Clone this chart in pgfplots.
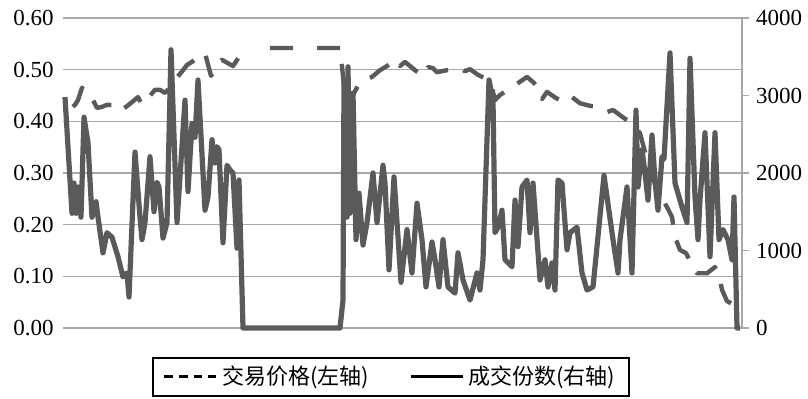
\documentclass[border=0pt]{standalone}
\usepackage{pgfplots}
\pgfplotsset{compat=1.18}
\usepackage{fontspec}
\setmainfont{Liberation Serif}
\newfontfamily\cjk{Noto Sans CJK SC}
\definecolor{lineg}{HTML}{5A5A5A}
\definecolor{gridg}{HTML}{A8A8A8}
\pgfplotsset{base/.style={width=339.5pt, height=155pt, scale only axis,
  xmin=63, xmax=742, clip=false,
  tick label style={font=\fontsize{11.5}{13}\selectfont},
  /pgf/number format/assume math mode=true}}
\begin{document}
\begin{tikzpicture}
% left axis with grid
\begin{axis}[base, name=ax, ymin=0, ymax=0.6,
  axis x line=none, axis y line=left, y axis line style={draw=none},
  ytick={0,0.1,0.2,0.3,0.4,0.5,0.6},
  yticklabels={0.00,0.10,0.20,0.30,0.40,0.50,0.60},
  major tick length=0pt, ytick style={draw=none},
  yticklabel style={xshift=-1.2pt},
  ymajorgrids, major grid style={gridg, line width=0.8pt}]
\addplot[draw=none, forget plot] coordinates {(63,0) (742,0)};
\end{axis}
% right axis with volume
\begin{axis}[base, ymin=0, ymax=4000,
  axis x line=none, axis y line*=right,
  y axis line style={gridg, line width=0.8pt},
  ytick={0,1000,2000,3000,4000},
  yticklabels={0,1000,2000,3000,4000},
  scaled y ticks=false,
  tick align=outside, major tick length=3.5pt,
  ytick style={gridg, line width=0.8pt}]
\addplot[lineg, line width=2.6pt, line join=round, forget plot] table {
x y
65 2980
72 1480
74 1870
76 1480
78 1820
81 1430
84 2720
88 2390
92 1430
96 1630
98 1430
103 970
107 1230
112 1170
118 920
123 660
127 710
129 400
135 2270
140 1430
142 1140
145 1360
150 2210
154 1500
157 1880
159 1820
163 1160
167 1360
171 3590
177 1360
185 2940
188 1760
192 2640
195 2460
198 3200
205 1520
208 1690
212 2430
215 2130
217 2340
219 2300
223 1100
227 2100
230 2040
233 2000
237 1030
239 1910
243 0
340 0
343 360
344 3200
347 1430
348 3370
350 1480
353 3030
356 1140
359 1740
363 1070
367 1360
373 2000
377 1360
383 2100
385 1870
389 750
394 1950
401 590
407 1270
412 710
417 1610
422 1140
426 530
432 1110
435 880
439 530
443 1140
448 530
455 450
458 970
463 620
470 360
477 710
480 490
483 880
489 3200
493 2940
495 1230
498 1300
502 1520
505 880
512 790
515 1650
518 1050
522 1820
527 1910
530 1230
533 1870
540 620
545 880
548 530
552 840
555 490
558 1910
562 1870
567 1010
570 1230
577 1300
582 710
587 490
593 530
595 790
604 1970
613 1140
618 710
620 1140
627 1820
632 710
636 2810
638 1820
642 2300
645 2000
648 1650
652 2490
655 1900
658 1520
662 2210
664 2180
670 3550
675 1870
682 1560
687 1360
690 3480
695 1690
698 1140
700 1650
705 2520
710 920
715 2520
719 1140
723 1270
728 1140
732 880
734 1690
737 0
740 0
};
\end{axis}
% price overlay + legend
\begin{axis}[base, hide axis, ymin=0, ymax=0.6,
  unbounded coords=jump,
  legend columns=2,
  legend style={at={(0.483,0)}, anchor=north, yshift=-14.5pt,
    draw=black, line width=1pt, inner xsep=5pt, inner ysep=2pt,
    font=\cjk\fontsize{11}{13}\selectfont,
    /tikz/every even column/.append style={column sep=18pt}},
  legend cell align=left]
\addlegendimage{legend image code/.code={\draw[black, line width=1.6pt, dash pattern=on 4.3pt off 3pt] (0pt,0pt) -- (26pt,0pt);}}
\addlegendentry{交易价格(左轴)}
\addlegendimage{legend image code/.code={\draw[black, line width=1.6pt] (0pt,0pt) -- (26pt,0pt);}}
\addlegendentry{成交份数(右轴)}
\addplot[lineg, line width=2.2pt, dash pattern=on 11.5pt off 8pt, line join=round, forget plot] table {
x y
73 0.428
75 0.432
78 0.441
82 0.465
85 0.457
88 0.455
93 0.441
97 0.426
102 0.428
107 0.432
112 0.432
117 0.422
122 0.422
130 0.434
138 0.447
142 0.432
148 0.445
155 0.461
160 0.461
165 0.455
170 0.465
175 0.480
183 0.499
187 0.509
195 0.519
200 0.525
205 0.532
211 0.488
222 0.519
233 0.507
245 0.542
250 nan
270 0.542
293 0.542
300 nan
317 0.542
340 0.542
344 0.470
348 0.432
353 0.451
360 0.476
365 0.480
372 0.486
380 0.499
392 0.513
397 0.519
400 0.507
405 0.515
415 0.499
423 0.488
428 0.505
433 0.503
437 0.495
447 0.499
455 0.501
460 0.503
465 0.497
470 0.501
478 0.490
488 0.480
492 0.465
495 0.441
500 0.451
508 0.461
518 0.474
527 0.486
533 0.476
538 0.466
542 0.443
547 0.457
556 0.445
565 0.437
572 0.447
580 0.435
590 0.430
598 0.428
607 0.418
613 0.422
620 0.412
625 0.405
632 0.397
640 0.377
648 0.319
657 0.267
667 0.234
672 0.215
675 0.176
680 0.151
686 0.145
692 0.122
697 0.106
707 0.106
715 0.118
720 0.093
722 0.074
727 0.052
733 0.046
};
\end{axis}
\pgfresetboundingbox
\path[use as bounding box] (ax.south west) ++(-31.5pt,-35pt) rectangle ++(404pt,199pt);
\end{tikzpicture}
\end{document}
